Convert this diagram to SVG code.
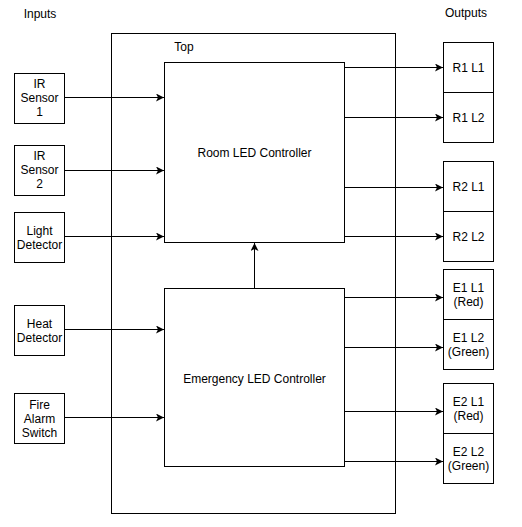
<svg xmlns="http://www.w3.org/2000/svg" width="522" height="527" viewBox="0 0 522 527">
<style>
rect{fill:#fff;stroke:#000;stroke-width:1}
text{font-family:"Liberation Sans",Arial,sans-serif;font-size:12px;fill:#000;text-anchor:middle}
.c{fill:none;stroke:#000;stroke-width:1}
</style>
<defs>
<marker id="a" viewBox="0 0 10 10" refX="10" refY="5" markerWidth="8" markerHeight="8" markerUnits="userSpaceOnUse" orient="auto">
<path d="M0,0 L10,5 L0,10 L2.5,5 Z" fill="#000"/>
</marker>
</defs>
<rect id="bg" x="0" y="0" width="522" height="527" style="stroke:none"/>
<text x="40" y="18">Inputs</text>
<text x="466" y="17">Outputs</text>
<g id="top"><rect x="111.5" y="33.5" width="284" height="480"/><text x="184" y="51">Top</text></g>
<g id="room"><rect x="164.5" y="62.5" width="180" height="180"/><text x="254.5" y="157">Room LED Controller</text></g>
<g id="emerg"><rect x="164.5" y="288.5" width="180" height="178"/><text x="254.5" y="383">Emergency LED Controller</text></g>
<g id="ir1"><rect x="14.5" y="73.5" width="50" height="50"/><text x="39.5" y="88">IR</text><text x="39.5" y="102">Sensor</text><text x="39.5" y="116">1</text></g>
<g id="ir2"><rect x="14.5" y="145.5" width="50" height="50"/><text x="39.5" y="160">IR</text><text x="39.5" y="174">Sensor</text><text x="39.5" y="188">2</text></g>
<g id="light"><rect x="14.5" y="212.5" width="50" height="50"/><text x="39.5" y="235">Light</text><text x="39.5" y="249">Detector</text></g>
<g id="heat"><rect x="14.5" y="305.5" width="50" height="50"/><text x="39.5" y="328">Heat</text><text x="39.5" y="342">Detector</text></g>
<g id="fire"><rect x="14.5" y="393.5" width="50" height="50"/><text x="39.5" y="409">Fire</text><text x="39.5" y="423">Alarm</text><text x="39.5" y="437">Switch</text></g>
<g id="r1l1"><rect x="443.5" y="42.5" width="50" height="50"/><text x="468.5" y="72">R1 L1</text></g>
<g id="r1l2"><rect x="443.5" y="92.5" width="50" height="50"/><text x="468.5" y="122">R1 L2</text></g>
<g id="r2l1"><rect x="443.5" y="161.5" width="50" height="50"/><text x="468.5" y="191">R2 L1</text></g>
<g id="r2l2"><rect x="443.5" y="211.5" width="50" height="50"/><text x="468.5" y="241">R2 L2</text></g>
<g id="e1l1"><rect x="443.5" y="269.5" width="50" height="50"/><text x="468.5" y="292">E1 L1</text><text x="468.5" y="306">(Red)</text></g>
<g id="e1l2"><rect x="443.5" y="319.5" width="50" height="50"/><text x="468.5" y="342">E1 L2</text><text x="468.5" y="356">(Green)</text></g>
<g id="e2l1"><rect x="443.5" y="383.5" width="50" height="50"/><text x="468.5" y="406">E2 L1</text><text x="468.5" y="420">(Red)</text></g>
<g id="e2l2"><rect x="443.5" y="433.5" width="50" height="50"/><text x="468.5" y="456">E2 L2</text><text x="468.5" y="470">(Green)</text></g>
<g id="connectors" class="c" marker-end="url(#a)">
<path class="c" d="M64.5,97.5 H164" marker-end="url(#a)"/>
<path class="c" d="M64.5,170.5 H164" marker-end="url(#a)"/>
<path class="c" d="M64.5,236.5 H164" marker-end="url(#a)"/>
<path class="c" d="M64.5,329.5 H164" marker-end="url(#a)"/>
<path class="c" d="M64.5,417.5 H164" marker-end="url(#a)"/>
<path class="c" d="M344.5,67.5 H443" marker-end="url(#a)"/>
<path class="c" d="M344.5,117.5 H443" marker-end="url(#a)"/>
<path class="c" d="M344.5,187.5 H443" marker-end="url(#a)"/>
<path class="c" d="M344.5,236.5 H443" marker-end="url(#a)"/>
<path class="c" d="M344.5,297.5 H443" marker-end="url(#a)"/>
<path class="c" d="M344.5,347.5 H443" marker-end="url(#a)"/>
<path class="c" d="M344.5,411.5 H443" marker-end="url(#a)"/>
<path class="c" d="M344.5,461.5 H443" marker-end="url(#a)"/>
<path class="c" d="M254.5,288.5 V243" marker-end="url(#a)"/>
</g>
</svg>
